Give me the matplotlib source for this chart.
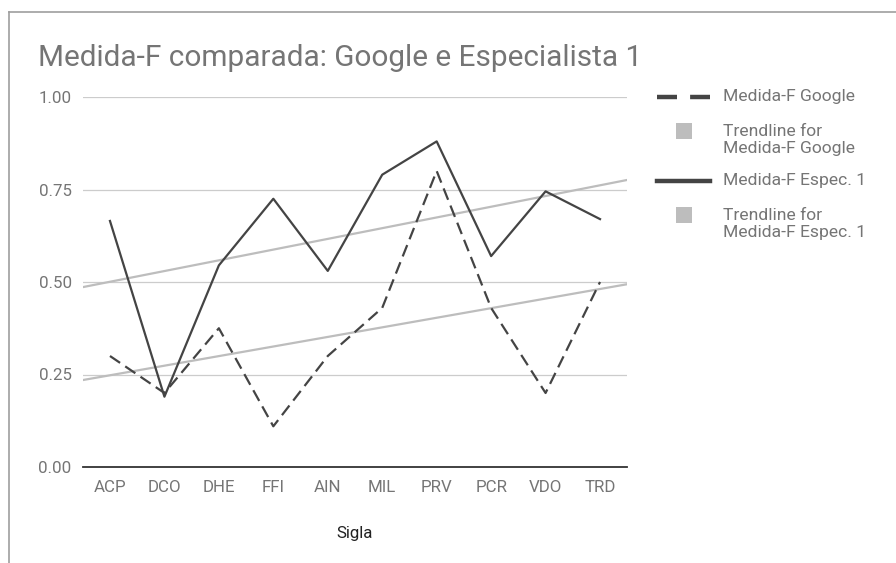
"""Medida-F comparada: Google e Especialista 1 — line chart with linear trendlines."""

import numpy as np
import matplotlib.pyplot as plt
from matplotlib.lines import Line2D
from matplotlib.patches import Rectangle

plt.rcParams["font.family"] = ["Roboto", "DejaVu Sans"]

siglas = ["ACP", "DCO", "DHE", "FFI", "AIN", "MIL", "PRV", "PCR", "VDO", "TRD"]
f_google = [0.30, 0.20, 0.375, 0.11, 0.30, 0.43, 0.80, 0.43, 0.20, 0.50]
f_espec1 = [0.665, 0.19, 0.545, 0.725, 0.53, 0.79, 0.88, 0.57, 0.745, 0.67]
y_ticks = [0.0, 0.25, 0.5, 0.75, 1.0]

LINE = "#444444"
TREND = "#bdbdbd"
TXT = "#757575"

W, H = 896, 563
fig = plt.figure(figsize=(W / 100, H / 100), dpi=100)
ax = fig.add_axes([82.75 / W, 96 / H, 544.5 / W, 370 / H])

idx = np.arange(len(siglas))
ax.set_xlim(-0.5, len(siglas) - 0.5)
ax.set_ylim(0, 1)

# linear trendlines over full axis width
xs = np.array(ax.get_xlim())
for vals in (f_google, f_espec1):
    m, b = np.polyfit(idx, vals, 1)
    ax.plot(xs, m * xs + b, color=TREND, lw=1.6, zorder=2, solid_capstyle="butt")

g_line, = ax.plot(idx, f_google, color=LINE, lw=1.6, zorder=3)
g_line.set_dashes([5.5, 2.8])
ax.plot(idx, f_espec1, color=LINE, lw=1.6, zorder=3)

ax.set_yticks(y_ticks)
ax.set_yticklabels([f"{v:.2f}" for v in y_ticks])
ax.set_xticks(idx)
ax.set_xticklabels(siglas)
ax.grid(axis="y", color="#cccccc", lw=0.9)
ax.set_axisbelow(True)
for s in ("top", "right", "left"):
    ax.spines[s].set_visible(False)
ax.spines["bottom"].set_color("#333333")
ax.spines["bottom"].set_linewidth(1.3)
ax.spines["bottom"].set_zorder(4)
ax.tick_params(length=0, labelsize=12.2, colors=TXT)
ax.tick_params(axis="y", pad=8)
ax.tick_params(axis="x", pad=9)
ax.set_xlabel("Sigla", fontsize=12.2, color="#222222", labelpad=23)

# overlay in pixel coords for title, frame and legend
ov = fig.add_axes([0, 0, 1, 1], zorder=5)
ov.set_xlim(0, W)
ov.set_ylim(H, 0)
ov.axis("off")
ov.plot([9, W], [11.5, 11.5], color="#9e9e9e", lw=1.2)
ov.plot([9, 9], [11.5, H], color="#9e9e9e", lw=1.2)
ov.text(38, 58, "Medida-F comparada: Google e Especialista 1", fontsize=21.4,
        color=TXT, va="center", ha="left")

leg_x0, leg_x1, leg_tx = 657, 710, 723
leg_font = 12.6
hd = Line2D([leg_x0, leg_x1], [97, 97], color=LINE, lw=3.2, dash_capstyle="butt")
hd.set_dashes([4.5, 2.95])
ov.add_line(hd)
ov.text(leg_tx, 97, "Medida-F Google", fontsize=leg_font, color=TXT, va="center")
ov.add_patch(Rectangle((676, 122.5), 16, 16, color=TREND, lw=0))
ov.text(leg_tx, 140, "Trendline for\nMedida-F Google", fontsize=leg_font,
        color=TXT, va="center", linespacing=1.12)
ov.add_line(Line2D([leg_x0, leg_x1], [181, 181], color=LINE, lw=3.2))
ov.text(leg_tx, 181, "Medida-F Espec. 1", fontsize=leg_font, color=TXT, va="center")
ov.add_patch(Rectangle((676, 206.5), 16, 16, color=TREND, lw=0))
ov.text(leg_tx, 224, "Trendline for\nMedida-F Espec. 1", fontsize=leg_font,
        color=TXT, va="center", linespacing=1.12)

fig.savefig("out.png", dpi=100)
